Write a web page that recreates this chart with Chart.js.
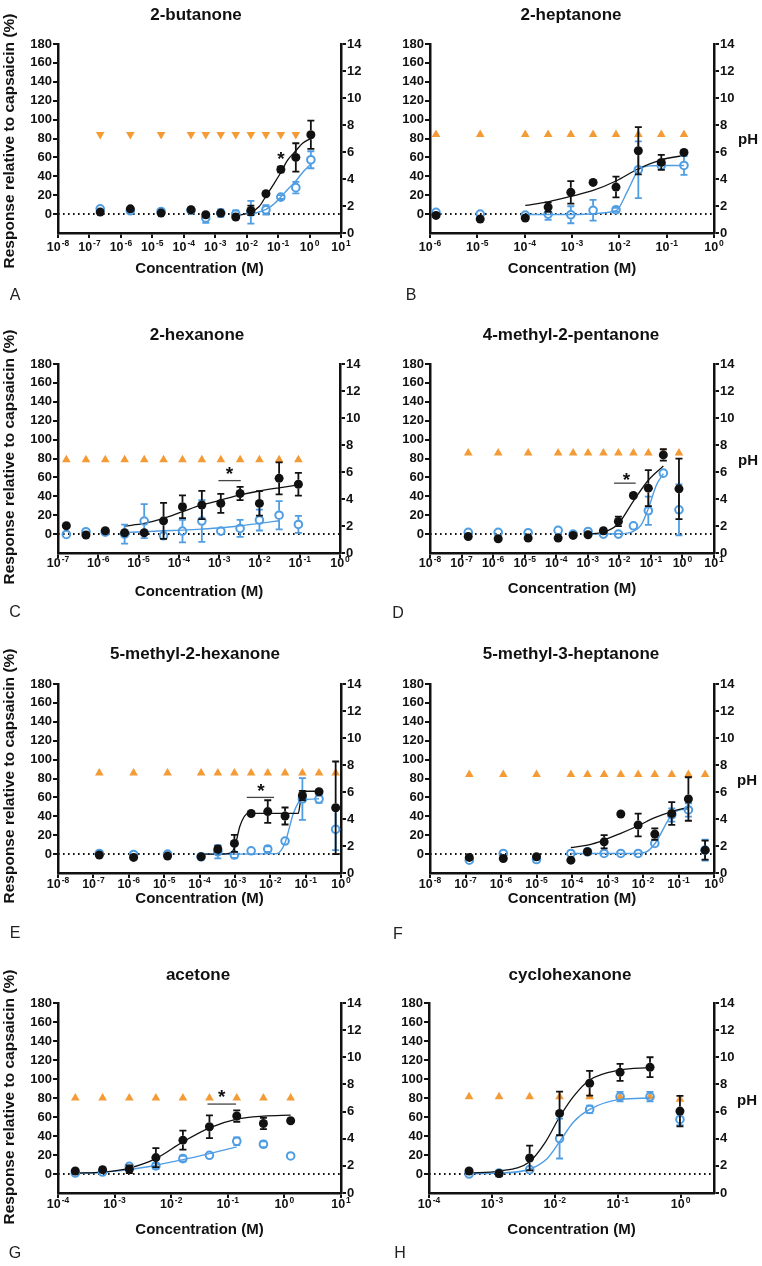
<!DOCTYPE html>
<html>
<head>
<meta charset="utf-8">
<title>Ketone responses</title>
<script src="https://cdn.jsdelivr.net/npm/chart.js@4"></script>
<style>
  body { margin: 0; background: #fff; }
  #page { position: relative; width: 762px; height: 1266px; overflow: hidden;
          font-family: "Liberation Sans", Arial, sans-serif; color: #111; }
  canvas { position: absolute; }
  .t { position: absolute; transform: translate(-50%, -50%); white-space: nowrap; font-weight: bold; }
  .title { font-size: 17px; }
  .axt { font-size: 15px; }
  .yt { font-size: 15.5px; transform: translate(-50%, -50%) rotate(-90deg); }
  .ph { font-size: 15px; }
  .letter { font-size: 16px; font-weight: normal; color: #222; }
</style>
</head>
<body>
<div id="page"></div>
<script>
// ---- A: 2-butanone
const concA = [2.2e-7, 2e-6, 1.9e-5, 1.7e-4, 5e-4, 1.5e-3, 4.5e-3, 1.36e-2, 4.1e-2, 0.122, 0.366, 1.1];
const phA = [7.3, 7.3, 7.3, 7.3, 7.3, 7.3, 7.3, 7.3, 7.3, 7.3, 7.3, 7.3];
const blackA = [2.1, 5.6, 1.1, 4.6, -0.7, 1.1, -3.2, 3.9, 21.5, 47.3, 60, 84];
const blackErrA = [0, 0, 0, 0, 0, 0, 0, 5, 0, 3, 15, 15];
const blueA = [5.6, 3.5, 2.8, 4, -4.2, 1, 0, 2, 4.6, 18, 28, 57.5];
const blueErrA = [0, 0, 0, 0, 5, 4, 4, 12, 5, 2, 6, 9];
const fitBlackXA = [4.5e-3, 1.36e-2, 2.5e-2, 4.1e-2, 0.07, 0.122, 0.2, 0.366, 0.6, 1.1];
const fitBlackYA = [-2, 2, 8, 19, 31, 44, 57, 67, 75, 80];
const fitBlueXA = [1.36e-2, 4.1e-2, 0.07, 0.122, 0.2, 0.366, 0.6, 1.1];
const fitBlueYA = [-0.5, 5, 10, 18, 26, 35, 44, 53];

// ---- B: 2-heptanone
const concB = [1.34e-6, 1.15e-5, 1.03e-4, 3.13e-4, 9.44e-4, 2.79e-3, 8.5e-3, 2.52e-2, 7.7e-2, 0.232];
const phB = [7.3, 7.3, 7.3, 7.3, 7.3, 7.3, 7.3, 7.3, 7.3, 7.3];
const blackB = [-1.4, -5.3, -4.2, 7.4, 23, 33.5, 28.6, 67, 54.7, 65.3];
const blackErrB = [0, 0, 0, 5, 12, 0, 11, 25, 8, 0];
const blueB = [1.8, 0, -1, 0, -0.7, 4, 4.6, 47, 51.5, 51.5];
const blueErrB = [0, 0, 0, 6, 9, 11, 2, 30, 4, 10];
const fitBlackXB = [1.03e-4, 3.13e-4, 9.44e-4, 2.79e-3, 8.5e-3, 2.52e-2, 7.7e-2, 0.232];
const fitBlackYB = [9.2, 13, 18.7, 25, 35, 48, 57.5, 62];
const fitBlueXB = [1.03e-4, 9.44e-4, 8.5e-3, 1.48e-2, 2.52e-2, 4.5e-2, 7.7e-2, 0.232];
const fitBlueYB = [-0.5, -0.5, 3.5, 24, 46.5, 51, 51.5, 51.5];

// ---- C: 2-hexanone
const concC = [1.61e-7, 4.94e-7, 1.49e-6, 4.5e-6, 1.38e-5, 4.17e-5, 1.23e-4, 3.72e-4, 1.1e-3, 3.31e-3, 1e-2, 3.08e-2, 9.27e-2];
const phC = [6.9, 6.9, 6.9, 6.9, 6.9, 6.9, 6.9, 6.9, 6.9, 6.9, 6.9, 6.9, 6.9];
const blackC = [8.8, -1, 3.5, 1.4, 1.4, 14, 29, 30.8, 32.5, 43, 32.5, 59, 52.7];
const blackErrC = [0, 0, 0, 0, 0, 19, 12, 15, 10, 7, 13, 17, 12];
const blueC = [-0.4, 2.5, 2, 0, 13.8, -1.8, 3.2, 13.8, 3.2, 6, 14.8, 20, 10.2];
const blueErrC = [0, 0, 0, 10, 18, 0, 12, 22, 0, 9, 11, 15, 9];
const fitBlackXC = [4.5e-6, 1.38e-5, 4.17e-5, 1.23e-4, 3.72e-4, 1.1e-3, 3.31e-3, 1e-2, 3.08e-2, 9.27e-2];
const fitBlackYC = [8.5, 11.3, 16.6, 23.7, 30.8, 36, 41.4, 45.6, 49, 52];
const fitBlueXC = [4.5e-6, 1.38e-5, 4.17e-5, 1.23e-4, 3.72e-4, 1.1e-3, 3.31e-3, 1e-2, 3.08e-2];
const fitBlueYC = [1.8, 2.5, 3.5, 4.2, 5.3, 6.7, 8.8, 11.3, 14.1];

// ---- D: 4-methyl-2-pentanone
const concD = [1.63e-7, 1.45e-6, 1.29e-5, 1.15e-4, 3.44e-4, 1.02e-3, 3.13e-3, 9.33e-3, 2.79e-2, 8.3e-2, 0.248, 0.776];
const phD = [7.4, 7.4, 7.4, 7.4, 7.4, 7.4, 7.4, 7.4, 7.4, 7.4, 7.4, 7.4];
const blackD = [-2.5, -4.9, -4.2, -4.2, -1.4, -0.7, 3.5, 13.4, 40.9, 48.6, 83.8, 47.9];
const blackErrD = [0, 0, 0, 0, 0, 0, 0, 5, 0, 19, 6, 32];
const blueD = [1.8, 1.8, 1.5, 3.9, 0, 2.8, 0, 0, 8.8, 24.7, 64.5, 25.7];
const blueErrD = [0, 0, 0, 0, 0, 0, 0, 0, 0, 15, 0, 27];
const fitBlackXD = [1.02e-3, 3.13e-3, 9.33e-3, 2.79e-2, 8.3e-2, 0.248];
const fitBlackYD = [0, 2, 11, 35, 57, 72];
const fitBlueXD = [1.02e-3, 9.33e-3, 2.79e-2, 5e-2, 8.3e-2, 0.15, 0.248];
const fitBlueYD = [0, 0.3, 3, 10, 27, 52, 64];

// ---- E: 5-methyl-2-hexanone
const concE = [1.47e-7, 1.37e-6, 1.25e-5, 1.11e-4, 3.3e-4, 9.7e-4, 2.88e-3, 8.5e-3, 2.62e-2, 8.1e-2, 0.239, 0.706];
const phE = [7.4, 7.4, 7.4, 7.4, 7.4, 7.4, 7.4, 7.4, 7.4, 7.4, 7.4, 7.4];
const blackE = [-1, -3.5, -2.1, -2.8, 5.3, 11.3, 43, 45, 40.3, 62, 66, 49];
const blackErrE = [0, 0, 0, 0, 3, 9, 0, 12, 9, 5, 0, 49];
const blueE = [0.7, -0.4, 0, -2.8, 2.5, -1, 3.5, 5.3, 13.8, 58.3, 58.3, 26.2];
const blueErrE = [0, 0, 0, 0, 7, 3, 0, 3, 0, 22, 4, 22];
const fitBlackXE = [1.11e-4, 4e-4, 7.3e-4, 1e-3, 1.4e-3, 2.4e-3, 6.2e-2, 7e-2, 7.8e-2, 0.1, 0.239];
const fitBlackYE = [0, 0, 1, 8, 30, 43, 43, 54, 65, 66.5, 66.5];
const fitBlueXE = [1.11e-4, 1.53e-2, 2.62e-2, 4.5e-2, 7.3e-2, 0.239];
const fitBlueYE = [0, 0.5, 12, 43, 57, 58.5];

// ---- F: 5-methyl-3-heptanone
const concF = [1.28e-7, 1.16e-6, 1e-5, 9.3e-5, 2.73e-4, 8.05e-4, 2.37e-3, 7.3e-3, 2.15e-2, 6.45e-2, 0.19, 0.561];
const phF = [7.3, 7.3, 7.3, 7.3, 7.3, 7.3, 7.3, 7.3, 7.3, 7.3, 7.3, 7.3];
const blackF = [-3.5, -4.6, -2.8, -6.4, 2.5, 13, 42.4, 30.8, 21.2, 43, 58.3, 4.2];
const blackErrF = [0, 0, 0, 0, 0, 7, 0, 12, 6, 12, 23, 10];
const blueF = [-6.4, 0.7, -5.7, 0.7, 2.5, 0.7, 0.7, 0.7, 11.3, 41.4, 46.7, 4.2];
const blueErrF = [0, 0, 0, 0, 0, 0, 0, 0, 0, 7, 7, 11];
const fitBlackXF = [9.3e-5, 2.73e-4, 8.05e-4, 2.37e-3, 7.3e-3, 2.15e-2, 6.45e-2, 0.19];
const fitBlackYF = [7, 9.5, 14.9, 22, 30, 38.5, 45, 49.5];
const fitBlueXF = [9.3e-5, 7.3e-3, 1.2e-2, 2.15e-2, 6.45e-2, 0.12, 0.19];
const fitBlueYF = [0.7, 0.7, 2, 11, 41.4, 47, 47.5];

// ---- G: acetone
const concG = [2.02e-4, 6.14e-4, 1.82e-3, 5.36e-3, 1.61e-2, 4.74e-2, 0.144, 0.426, 1.29];
const phG = [7.0, 7.0, 7.0, 7.0, 7.0, 7.0, 7.0, 7.0, 7.0];
const blackG = [3.2, 4.6, 5, 17.3, 35.6, 49.7, 61, 53.2, 56];
const blackErrG = [0, 0, 4, 10, 10, 12, 6, 6, 0];
const blueG = [1, 2.1, 8, 8.5, 16.2, 19.7, 34.5, 31.3, 19];
const blueErrG = [0, 0, 0, 3, 3, 0, 4, 3, 0];
const fitBlackXG = [2.02e-4, 6.14e-4, 1.82e-3, 5.36e-3, 1.61e-2, 4.74e-2, 0.144, 0.426, 1.29];
const fitBlackYG = [1, 2, 6.3, 16.2, 33.8, 48.6, 57.8, 61, 62];
const fitBlueXG = [2.02e-4, 6.14e-4, 1.82e-3, 5.36e-3, 1.61e-2, 4.74e-2, 0.144];
const fitBlueYG = [0.7, 1.8, 4.6, 9.2, 15.1, 21.5, 28.5];

// ---- H: cyclohexanone
const concH = [4.33e-4, 1.3e-3, 3.98e-3, 1.19e-2, 3.58e-2, 0.109, 0.326, 0.975];
const phH = [7.1, 7.1, 7.1, 7.1, 7.1, 7.1, 7.1, 6.9];
const blackH = [3.2, 0.4, 16.9, 63.8, 95.5, 107, 112.4, 66.2];
const blackErrH = [0, 3, 13, 23, 13, 9, 10.5, 16];
const blueH = [0, 1, 4.6, 37.3, 68, 81.4, 81.4, 57.4];
const blueErrH = [0, 0, 0, 21, 4, 5, 5, 6];
const fitBlackXH = [4.33e-4, 1.3e-3, 3.98e-3, 7e-3, 1.19e-2, 2e-2, 3.58e-2, 0.109, 0.326];
const fitBlackYH = [1, 3, 13, 33, 60, 82, 99, 109.5, 112];
const fitBlueXH = [4.33e-4, 1.3e-3, 3.98e-3, 7.5e-3, 1.19e-2, 2e-2, 3.58e-2, 0.109, 0.326];
const fitBlueYH = [0.4, 1, 5, 16, 34, 55, 68, 78.5, 80];

// significance marks: [x, y] for the star, [x1, x2, y] for the bar
const starA = [0.122, 64];
const starC = [1.8e-3, 69], barC = [9.6e-4, 3.44e-3, 56.6];
const starD = [1.67e-2, 62.7], barD = [6.8e-3, 3.3e-2, 53.9];
const starE = [5.5e-3, 72.5], barE = [2.17e-3, 1.28e-2, 60];
const starG = [7.8e-2, 86.6], barG = [4.38e-2, 0.14, 73.6];

const BLUE = '#4f9de3';
const ORANGE = '#f49b36';
const INK = '#111';
const FONT = '"Liberation Sans", Arial, sans-serif';
const CW = 381, CH = 290;

Chart.defaults.font.family = FONT;
Chart.defaults.color = INK;

const panels = [
  { key: 'A', name: '2-butanone', left: 0, top: 0, plot: [58, 44, 341, 233], xr: [1e-8, 10],
    conc: concA, ph: phA, black: blackA, blackErr: blackErrA, blue: blueA, blueErr: blueErrA,
    fb: [fitBlackXA, fitBlackYA], fu: [fitBlueXA, fitBlueYA], star: starA, bar: null, down: true,
    title: [196, 15], letter: [15, 295], xt: 267, tk: 15, yt: 141, phAt: null },
  { key: 'B', name: '2-heptanone', left: 381, top: 0, plot: [430, 44, 714, 233], xr: [1e-6, 1],
    conc: concB, ph: phB, black: blackB, blackErr: blackErrB, blue: blueB, blueErr: blueErrB,
    fb: [fitBlackXB, fitBlackYB], fu: [fitBlueXB, fitBlueYB], star: null, bar: null,
    title: [571, 15], letter: [411, 295], xt: 267, tk: 15, yt: null, phAt: [748, 138] },
  { key: 'C', name: '2-hexanone', left: 0, top: 315, plot: [58, 364, 340, 553], xr: [1e-7, 1],
    conc: concC, ph: phC, black: blackC, blackErr: blackErrC, blue: blueC, blueErr: blueErrC,
    fb: [fitBlackXC, fitBlackYC], fu: [fitBlueXC, fitBlueYC], star: starC, bar: barC,
    title: [197, 335], letter: [15, 612], xt: 590, tk: 11, yt: 457, phAt: null },
  { key: 'D', name: '4-methyl-2-pentanone', left: 381, top: 315, plot: [430, 364, 714, 553], xr: [1e-8, 10],
    conc: concD, ph: phD, black: blackD, blackErr: blackErrD, blue: blueD, blueErr: blueErrD,
    fb: [fitBlackXD, fitBlackYD], fu: [fitBlueXD, fitBlueYD], star: starD, bar: barD,
    title: [571, 335], letter: [398, 613], xt: 587, tk: 11, yt: null, phAt: [748, 459] },
  { key: 'E', name: '5-methyl-2-hexanone', left: 0, top: 630, plot: [58, 684, 341, 873], xr: [1e-8, 1],
    conc: concE, ph: phE, black: blackE, blackErr: blackErrE, blue: blueE, blueErr: blueErrE,
    fb: [fitBlackXE, fitBlackYE], fu: [fitBlueXE, fitBlueYE], star: starE, bar: barE,
    title: [195, 654], letter: [15, 933], xt: 897, tk: 12, yt: 776, phAt: null },
  { key: 'F', name: '5-methyl-3-heptanone', left: 381, top: 630, plot: [430, 684, 714, 873], xr: [1e-8, 1],
    conc: concF, ph: phF, black: blackF, blackErr: blackErrF, blue: blueF, blueErr: blueErrF,
    fb: [fitBlackXF, fitBlackYF], fu: [fitBlueXF, fitBlueYF], star: null, bar: null,
    title: [571, 654], letter: [398, 934], xt: 897, tk: 12, yt: null, phAt: [747, 779] },
  { key: 'G', name: 'acetone', left: 0, top: 945, plot: [58, 1003, 341, 1193], xr: [1e-4, 10],
    conc: concG, ph: phG, black: blackG, blackErr: blackErrG, blue: blueG, blueErr: blueErrG,
    fb: [fitBlackXG, fitBlackYG], fu: [fitBlueXG, fitBlueYG], star: starG, bar: barG,
    title: [198, 975], letter: [15, 1253], xt: 1228, tk: 12, yt: 1097, phAt: null },
  { key: 'H', name: 'cyclohexanone', left: 381, top: 945, plot: [429, 1003, 714, 1193], xr: [1e-4, 3.39],
    conc: concH, ph: phH, black: blackH, blackErr: blackErrH, blue: blueH, blueErr: blueErrH,
    fb: [fitBlackXH, fitBlackYH], fu: [fitBlueXH, fitBlueYH], star: null, bar: null,
    title: [570, 975], letter: [400, 1253], xt: 1228, tk: 12, yt: null, phAt: [747, 1099] }
];

const page = document.getElementById('page');

function addText(cls, txt, x, y) {
  const d = document.createElement('div');
  d.className = 't ' + cls;
  d.textContent = txt;
  d.style.left = x + 'px';
  d.style.top = y + 'px';
  page.appendChild(d);
}

function pts(xs, ys) {
  return xs.map((x, i) => ({ x: x, y: ys[i] }));
}

function decades(lo, hi) {
  const out = [];
  for (let k = Math.ceil(Math.log10(lo) - 1e-9); k <= Math.floor(Math.log10(hi) + 1e-9); k++) out.push(Math.pow(10, k));
  return out;
}

// error bars under each point dataset, drawn outside the symbol
const errorBars = {
  id: 'errorBars',
  afterDatasetDraw(chart, args) {
    const ds = chart.data.datasets[args.index];
    if (!ds.errors) return;
    const ctx = chart.ctx, ys = chart.scales.y;
    ctx.save();
    ctx.strokeStyle = ds.errColor;
    ctx.lineWidth = 1.8;
    args.meta.data.forEach((el, i) => {
      const e = ds.errors[i];
      if (!e) return;
      const v = ds.data[i].y;
      const top = ys.getPixelForValue(v + e), bot = ys.getPixelForValue(v - e);
      const r = 4.5, cap = 3.5;
      ctx.beginPath();
      if (el.y - top > r) { ctx.moveTo(el.x, top); ctx.lineTo(el.x, el.y - r); }
      if (bot - el.y > r) { ctx.moveTo(el.x, el.y + r); ctx.lineTo(el.x, bot); }
      ctx.moveTo(el.x - cap, top); ctx.lineTo(el.x + cap, top);
      ctx.moveTo(el.x - cap, bot); ctx.lineTo(el.x + cap, bot);
      ctx.stroke();
    });
    ctx.restore();
  }
};

function extras(p) {
  return {
    id: 'extras' + p.key,
    afterDatasetsDraw(chart) {
      const ctx = chart.ctx, xs = chart.scales.x, ys = chart.scales.y;
      ctx.save();
      if (p.bar) {
        ctx.strokeStyle = '#444';
        ctx.lineWidth = 1.3;
        const yb = ys.getPixelForValue(p.bar[2]);
        ctx.beginPath();
        ctx.moveTo(xs.getPixelForValue(p.bar[0]), yb);
        ctx.lineTo(xs.getPixelForValue(p.bar[1]), yb);
        ctx.stroke();
      }
      if (p.star) {
        ctx.fillStyle = INK;
        ctx.font = 'bold 19px ' + FONT;
        ctx.textAlign = 'center';
        ctx.textBaseline = 'alphabetic';
        ctx.fillText('*', xs.getPixelForValue(p.star[0]), ys.getPixelForValue(p.star[1]) + 11);
      }
      ctx.restore();
    },
    afterDraw(chart) {
      // decade labels as 10 with a raised exponent
      const ctx = chart.ctx, xs = chart.scales.x;
      ctx.save();
      ctx.fillStyle = INK;
      ctx.textBaseline = 'middle';
      ctx.textAlign = 'left';
      xs.ticks.forEach(t => {
        const px = xs.getPixelForValue(t.value);
        const ex = String(Math.round(Math.log10(t.value)));
        ctx.font = 'bold 12.5px ' + FONT;
        const wb = ctx.measureText('10').width;
        ctx.font = 'bold 8.5px ' + FONT;
        const we = ctx.measureText(ex).width;
        const x0 = px - (wb + we + 1) / 2;
        const y = xs.top + p.tk;
        ctx.font = 'bold 12.5px ' + FONT;
        ctx.fillText('10', x0, y);
        ctx.font = 'bold 8.5px ' + FONT;
        ctx.fillText(ex, x0 + wb + 1, y - 4.5);
      });
      ctx.restore();
    }
  };
}

function axisStyle() {
  return {
    grid: { drawOnChartArea: false, drawTicks: true, tickLength: 5, color: INK, lineWidth: 2 },
    border: { display: true, color: INK, width: 2.5 }
  };
}

panels.forEach(p => {
  const cv = document.createElement('canvas');
  cv.width = CW; cv.height = CH;
  cv.style.left = p.left + 'px';
  cv.style.top = p.top + 'px';
  cv.style.width = CW + 'px';
  cv.style.height = CH + 'px';
  page.appendChild(cv);

  const relL = p.plot[0] - p.left, relT = p.plot[1] - p.top;
  const relR = p.plot[2] - p.left, relB = p.plot[3] - p.top;

  new Chart(cv, {
    type: 'line',
    data: {
      datasets: [
        { data: [{ x: p.xr[0], y: 0 }, { x: p.xr[1], y: 0 }], borderColor: INK, borderWidth: 2,
          borderDash: [1.6, 3.4], pointRadius: 0, order: 7 },
        { yAxisID: 'y2', data: pts(p.conc, p.ph), showLine: false, pointStyle: 'triangle',
          pointRadius: 5, pointRotation: p.down ? 180 : 0, pointBackgroundColor: ORANGE,
          pointBorderColor: ORANGE, pointBorderWidth: 0, clip: false, order: 6 },
        { data: pts(p.fu[0], p.fu[1]), borderColor: BLUE, borderWidth: 1.4, pointRadius: 0,
          cubicInterpolationMode: 'monotone', order: 5 },
        { data: pts(p.fb[0], p.fb[1]), borderColor: INK, borderWidth: 1.3, pointRadius: 0,
          cubicInterpolationMode: 'monotone', order: 4 },
        { data: pts(p.conc, p.blue), showLine: false, pointRadius: 3.8, pointBorderWidth: 2,
          pointBorderColor: BLUE, pointBackgroundColor: 'rgba(0,0,0,0)', clip: false,
          errors: p.blueErr, errColor: BLUE, order: 3 },
        { data: pts(p.conc, p.black), showLine: false, pointRadius: 4.5, pointBorderWidth: 0,
          pointBackgroundColor: INK, clip: false, errors: p.blackErr, errColor: INK, order: 2 }
      ]
    },
    options: {
      responsive: false,
      animation: false,
      devicePixelRatio: 1,
      layout: { padding: { top: relT, left: 0, right: 0, bottom: 0 } },
      plugins: { legend: { display: false }, tooltip: { enabled: false } },
      scales: {
        x: Object.assign({
          type: 'logarithmic', position: 'bottom', min: p.xr[0], max: p.xr[1],
          ticks: { display: false },
          afterBuildTicks: s => { s.ticks = decades(p.xr[0], p.xr[1]).map(v => ({ value: v })); },
          afterFit: s => { s.height = CH - relB; }
        }, axisStyle()),
        y: Object.assign({
          type: 'linear', position: 'left', min: -20, max: 180,
          ticks: { stepSize: 20, padding: 1, color: INK, font: { size: 13, weight: 'bold' } },
          afterBuildTicks: s => { s.ticks = s.ticks.filter(t => t.value >= 0); },
          afterFit: s => { s.width = relL; }
        }, axisStyle()),
        y2: Object.assign({
          type: 'linear', position: 'right', min: 0, max: 14,
          ticks: { stepSize: 2, padding: 1, color: INK, font: { size: 13, weight: 'bold' } },
          afterFit: s => { s.width = CW - relR; }
        }, axisStyle())
      }
    },
    plugins: [errorBars, extras(p)]
  });

  addText('title', p.name, p.title[0], p.title[1]);
  addText('axt', 'Concentration (M)', (p.plot[0] + p.plot[2]) / 2, p.xt);
  if (p.yt) addText('yt', 'Response relative to capsaicin (%)', 9, p.yt);
  if (p.phAt) addText('ph', 'pH', p.phAt[0], p.phAt[1]);
  addText('letter', p.key, p.letter[0], p.letter[1]);
});
</script>
</body>
</html>
